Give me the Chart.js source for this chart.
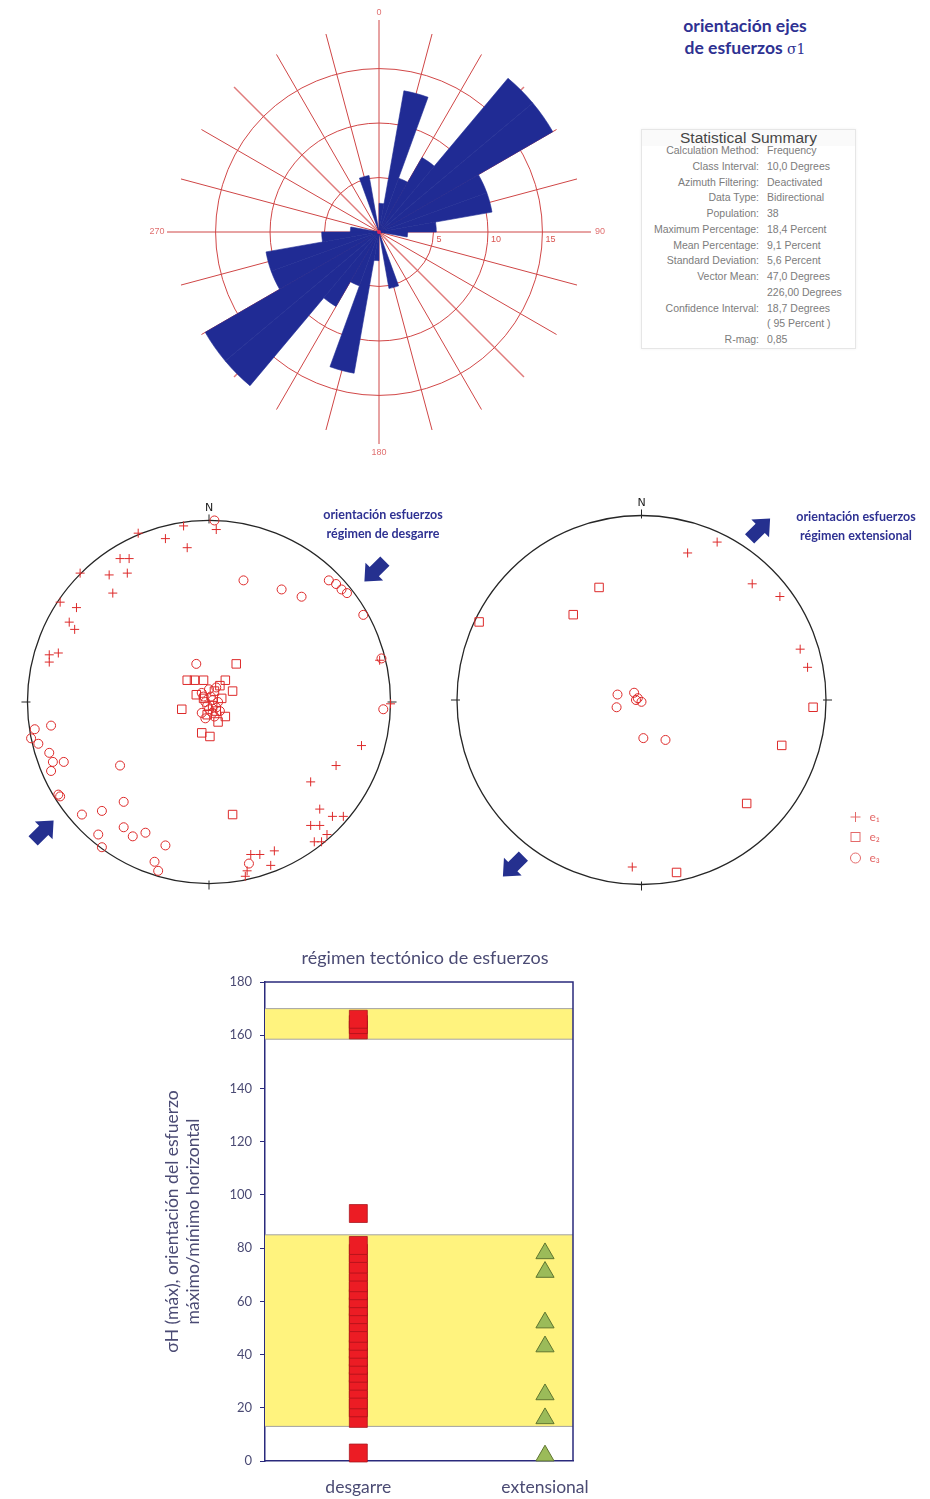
<!DOCTYPE html>
<html lang="es">
<head>
<meta charset="utf-8">
<title>Orientación de ejes de esfuerzos</title>
<script src="https://cdn.jsdelivr.net/npm/chart.js@4.4.1/dist/chart.umd.min.js"></script>
<style>
  html, body { margin: 0; padding: 0; background: #fff; }
  body { width: 930px; height: 1499px; position: relative; overflow: hidden; font-family: Lato, "Open Sans", sans-serif; }
  canvas { position: absolute; }
  .head { position: absolute; color: #2e3192; font-weight: bold; text-align: center; white-space: nowrap; }
  #summary { position: absolute; left: 641px; top: 129px; width: 213px; height: 218px; border: 1px solid #e6e6e6;
             box-shadow: 0 0 3px rgba(0,0,0,0.06); font-family: "Liberation Sans", Arial, sans-serif; z-index: 2; }
  #summary .ttl { position: absolute; left: 0; width: 100%; top: 0; height: 16px; line-height: 16px; text-align: center;
                  font-size: 15.5px; color: #454545; background: #fafafa; }
  #summary .row { position: absolute; left: 0; width: 100%; height: 12px; line-height: 12px; font-size: 10.5px; color: #7c7c7c; }
  #summary .row .k { position: absolute; right: 96px; text-align: right; white-space: nowrap; }
  #summary .row .v { position: absolute; left: 125px; white-space: nowrap; }
</style>
</head>
<body>

<div class="head" style="left:635px; top:15px; width:220px; font-size:17.5px; line-height:22px;">
  orientación ejes<br>de esfuerzos <span style="font-family:'DejaVu Serif'; font-weight:normal; font-size:14px;">σ1</span>
</div>

<div id="summary"><div class="ttl">Statistical Summary</div></div>

<div class="head" style="left:313px; top:505px; width:140px; font-size:12.5px; line-height:19px; z-index:3;">
  orientación esfuerzos<br>régimen de desgarre
</div>
<div class="head" style="left:781px; top:507px; width:150px; font-size:12.5px; line-height:19px; z-index:3;">
  orientación esfuerzos<br>régimen extensional
</div>

<canvas id="rose" width="480" height="480" style="left:139px; top:-8px;"></canvas>
<canvas id="stereoLeft" width="440" height="440" style="left:-11px; top:482px;"></canvas>
<canvas id="stereoRight" width="500" height="440" style="left:418px; top:480px;"></canvas>
<canvas id="regime" width="450" height="559" style="left:150px; top:940px;"></canvas>

<script>
// ---------- rose diagram: percentage per 10° class (bidirectional, 0° = N, clockwise) ----------
const roseClasses = Array.from({ length: 36 }, (_, i) => (i * 10) + '–' + (i * 10 + 10));
const rosePercent = [
  2.63, 13.16, 5.26, 7.89, 18.42, 18.42, 10.53, 10.53, 5.26,
  2.63, 0, 0, 0, 0, 0, 0, 5.26, 0,
  2.63, 13.16, 5.26, 7.89, 18.42, 18.42, 10.53, 10.53, 5.26,
  2.63, 0, 0, 0, 0, 0, 0, 5.26, 0
];
const roseRings = [5, 10, 15];
const roseCompass = ['0', '90', '180', '270'];

// ---------- statistical summary ----------
const statLabels = ['Calculation Method:', 'Class Interval:', 'Azimuth Filtering:', 'Data Type:', 'Population:',
  'Maximum Percentage:', 'Mean Percentage:', 'Standard Deviation:', 'Vector Mean:', '', 'Confidence Interval:', '', 'R-mag:'];
const statValues = ['Frequency', '10,0 Degrees', 'Deactivated', 'Bidirectional', '38',
  '18,4 Percent', '9,1 Percent', '5,6 Percent', '47,0 Degrees', '226,00 Degrees', '18,7 Degrees', '( 95 Percent )', '0,85'];

// ---------- stereonets: projected axis positions (unit circle, x = E, y = N) ----------
const desgarreE1 = [
  [-0.14, 0.97], [0.04, 0.95], [-0.39, 0.93], [-0.24, 0.90], [-0.12, 0.85], [-0.49, 0.79], [-0.44, 0.79],
  [-0.71, 0.71], [-0.55, 0.70], [-0.45, 0.71], [-0.53, 0.60], [-0.82, 0.55], [-0.73, 0.52], [-0.77, 0.44],
  [-0.74, 0.40], [-0.88, 0.26], [-0.83, 0.27], [-0.88, 0.22], [0.94, 0.23], [1.00, -0.01], [0.84, -0.24],
  [0.70, -0.35], [0.56, -0.44], [0.61, -0.59], [0.68, -0.63], [0.74, -0.63], [0.56, -0.68], [0.61, -0.68],
  [0.65, -0.73], [0.58, -0.77], [0.62, -0.77], [0.36, -0.82], [0.23, -0.84], [0.28, -0.84], [0.34, -0.90],
  [0.21, -0.93], [0.20, -0.96]
];
const desgarreE2 = [
  [0.15, 0.21], [-0.12, 0.12], [-0.08, 0.12], [0.09, 0.12], [0.13, 0.06], [-0.07, 0.04], [-0.15, -0.04],
  [0.09, -0.08], [0.05, -0.11], [-0.04, -0.17], [0.005, -0.19], [0.13, -0.62], [-0.03, 0.12], [0.06, 0.09],
  [0.03, 0.06], [-0.03, 0.02], [0.02, -0.02], [0.07, 0.02], [0.04, -0.05], [-0.01, -0.07]
];
const desgarreE3 = [
  [0.03, 1.00], [0.19, 0.67], [0.40, 0.62], [0.51, 0.58], [0.66, 0.67], [0.70, 0.65], [0.73, 0.62],
  [0.76, 0.60], [0.85, 0.48], [0.95, 0.24], [0.96, -0.04], [-0.07, 0.21], [-0.96, -0.15], [-0.87, -0.13],
  [-0.98, -0.20], [-0.94, -0.23], [-0.88, -0.28], [-0.86, -0.33], [-0.80, -0.33], [-0.87, -0.38],
  [-0.49, -0.35], [-0.83, -0.51], [-0.82, -0.52], [-0.47, -0.55], [-0.70, -0.62], [-0.59, -0.60],
  [-0.47, -0.69], [-0.61, -0.73], [-0.42, -0.74], [-0.35, -0.72], [-0.24, -0.79], [-0.59, -0.80],
  [-0.30, -0.88], [-0.28, -0.93], [0.22, -0.89],
  [-0.04, 0.05], [0.00, 0.07], [0.04, 0.08], [-0.02, 0.00], [0.02, 0.01], [0.00, -0.04], [0.04, -0.03],
  [-0.04, -0.06], [0.03, -0.08], [0.06, -0.05], [0.01, 0.03], [-0.01, -0.02], [0.02, -0.06], [-0.03, 0.03],
  [0.05, 0.00], [-0.02, -0.09]
];
const extensionalE1 = [[0.41, 0.87], [0.25, 0.81], [0.60, 0.64], [0.75, 0.57], [0.86, 0.28], [0.90, 0.18], [-0.05, -0.92]];
const extensionalE2 = [[-0.23, 0.62], [-0.37, 0.47], [-0.88, 0.43], [0.93, -0.04], [0.76, -0.25], [0.57, -0.57], [0.19, -0.95]];
const extensionalE3 = [[-0.13, 0.03], [-0.135, -0.04], [-0.04, 0.04], [-0.02, 0.01], [0.00, -0.01], [-0.03, 0.00], [0.01, -0.21], [0.13, -0.22]];
const axisNames = ['e₁', 'e₂', 'e₃'];

// ---------- tectonic regime: σH azimuth per regime ----------
const regimes = ['desgarre', 'extensional'];
const desgarreAzimuth = [3, 16, 20, 23, 27, 30, 33, 36, 39, 42, 45, 48, 52, 55, 58, 61, 64, 67, 71, 74, 78, 81, 93, 162, 164, 166];
const extensionalAzimuth = [2, 16, 25, 43, 52, 71, 78];
const regimeBands = [[13, 85], [158.5, 170]];
const azimuthTicks = { min: 0, max: 180, step: 20 };
const regimeTitle = 'régimen tectónico de esfuerzos';

Chart.defaults.font.family = 'Lato, "Open Sans", sans-serif';
Chart.defaults.devicePixelRatio = 1;

// summary box rows
(function () {
  const box = document.getElementById('summary');
  statLabels.forEach((k, i) => {
    const row = document.createElement('div');
    row.className = 'row';
    row.style.top = (14 + i * 15.75) + 'px';
    row.innerHTML = '<span class="k">' + k + '</span><span class="v">' + statValues[i] + '</span>';
    box.appendChild(row);
  });
})();

// ---------- rose ----------
const PETAL = '#202b94';
const SPOKE = '#cf4646';

const roseGrid = {
  id: 'roseGrid',
  // spokes every 15°, cardinal ones slightly longer; drawn under the petals
  beforeDatasetsDraw(chart) {
    const s = chart.scales.r, ctx = chart.ctx;
    const cx = s.xCenter, cy = s.yCenter, R = s.drawingArea;
    ctx.save();
    for (let a = 0; a < 360; a += 15) {
      const L = (a % 90 === 0) ? R + 5 : R - 2;
      const t = a * Math.PI / 180;
      const diag = a % 90 === 45;
      ctx.strokeStyle = diag ? 'rgba(214,80,80,0.75)' : SPOKE;
      ctx.lineWidth = diag ? 1.5 : 1;
      ctx.beginPath();
      ctx.moveTo(cx, cy);
      ctx.lineTo(cx + L * Math.sin(t), cy - L * Math.cos(t));
      ctx.stroke();
    }
    ctx.restore();
  },
  afterDraw(chart) {
    const s = chart.scales.r, ctx = chart.ctx;
    const cx = s.xCenter, cy = s.yCenter, R = s.drawingArea;
    ctx.save();
    ctx.fillStyle = '#d9534f';
    ctx.font = '9px "Liberation Sans", Arial, sans-serif';
    ctx.textBaseline = 'middle';
    ctx.textAlign = 'left';
    roseRings.forEach(v => ctx.fillText(String(v), cx + s.getDistanceFromCenterForValue(v) + 3, cy + 8));
    ctx.fillStyle = '#e07070';
    ctx.textAlign = 'center';
    const d = R + 12;
    ctx.fillText(roseCompass[0], cx, cy - d);
    ctx.fillText(roseCompass[1], cx + d + 2, cy);
    ctx.fillText(roseCompass[2], cx, cy + d + 2);
    ctx.fillText(roseCompass[3], cx - d - 3, cy);
    ctx.fillStyle = '#e0245a';
    ctx.beginPath(); ctx.arc(cx, cy, 2, 0, Math.PI * 2); ctx.fill();
    ctx.restore();
  }
};

new Chart(document.getElementById('rose'), {
  type: 'polarArea',
  data: {
    labels: roseClasses,
    datasets: [{
      data: rosePercent,
      backgroundColor: c => (c.raw > 0 ? PETAL : 'rgba(0,0,0,0)'),
      borderColor: c => (c.raw > 0 ? PETAL : 'rgba(0,0,0,0)'),
      borderWidth: c => (c.raw > 0 ? 0.6 : 0)
    }]
  },
  options: {
    responsive: false, animation: false, events: [],
    layout: { padding: 33 },
    plugins: { legend: { display: false }, tooltip: { enabled: false } },
    scales: {
      r: {
        min: 0, max: 19,
        ticks: { display: false, stepSize: 5 },
        grid: { circular: true, lineWidth: 1,
                color: c => (c.tick && c.tick.value % 5 === 0) ? 'rgba(204,51,51,0.9)' : 'rgba(0,0,0,0)' },
        angleLines: { display: false },
        pointLabels: { display: false }
      }
    }
  },
  plugins: [roseGrid]
});

// ---------- stereonets ----------
const RED = '#dd2a2a';
const NAVY = '#25308f';

function drawBlockArrow(ctx, x, y, deg) {
  ctx.save();
  ctx.translate(x, y);
  ctx.rotate(deg * Math.PI / 180);
  ctx.beginPath();
  ctx.moveTo(15, 0);
  ctx.lineTo(1, -12.5);
  ctx.lineTo(1, -6.5);
  ctx.lineTo(-14, -6.5);
  ctx.lineTo(-14, 6.5);
  ctx.lineTo(1, 6.5);
  ctx.lineTo(1, 12.5);
  ctx.closePath();
  ctx.fillStyle = NAVY;
  ctx.fill();
  ctx.restore();
}

const stereoFrame = {
  id: 'stereoFrame',
  beforeDatasetsDraw(chart) {
    const { ctx, scales: { x, y } } = chart;
    const cx = x.getPixelForValue(0), cy = y.getPixelForValue(0);
    const r = x.getPixelForValue(1) - cx;
    ctx.save();
    ctx.strokeStyle = '#262626';
    ctx.lineWidth = 1.3;
    ctx.beginPath(); ctx.arc(cx, cy, r, 0, Math.PI * 2); ctx.stroke();
    ctx.lineWidth = 1;
    [[0, -1], [1, 0], [0, 1], [-1, 0]].forEach(([dx, dy]) => {
      ctx.beginPath();
      ctx.moveTo(cx + dx * (r - 3), cy + dy * (r - 3));
      ctx.lineTo(cx + dx * (r + 6), cy + dy * (r + 6));
      ctx.stroke();
    });
    ctx.fillStyle = '#1a1a1a';
    ctx.font = '11px "DejaVu Sans", sans-serif';
    ctx.textAlign = 'center';
    ctx.textBaseline = 'middle';
    ctx.fillText('N', cx, cy - r - 12);
    ctx.restore();
  },
  afterDraw(chart, args, opts) {
    const { ctx, scales: { x, y } } = chart;
    const cx = x.getPixelForValue(0), cy = y.getPixelForValue(0);
    (opts.arrows || []).forEach(a => drawBlockArrow(ctx, cx + a[0], cy + a[1], a[2]));
    if (opts.legend) {
      const lx = cx + 214, ly = cy + 117;
      ctx.save();
      ctx.strokeStyle = '#e46a6a';
      ctx.fillStyle = '#e46a6a';
      ctx.lineWidth = 1;
      ctx.beginPath();
      ctx.moveTo(lx - 5, ly); ctx.lineTo(lx + 5, ly);
      ctx.moveTo(lx, ly - 5); ctx.lineTo(lx, ly + 5);
      ctx.stroke();
      ctx.strokeRect(lx - 4.5, ly + 20 - 4.5, 9, 9);
      ctx.beginPath(); ctx.arc(lx, ly + 41, 5, 0, Math.PI * 2); ctx.stroke();
      ctx.font = '12px Lato, sans-serif';
      ctx.textAlign = 'left';
      ctx.textBaseline = 'middle';
      axisNames.forEach((t, i) => ctx.fillText(t, lx + 14, ly + [0, 20, 41][i]));
      ctx.restore();
    }
  }
};

function toPts(arr) { return arr.map(p => ({ x: p[0], y: p[1] })); }

function stereonet(id, e1, e2, e3, frameOpts, padRight) {
  const lim = 220 / 187.5;
  return new Chart(document.getElementById(id), {
    type: 'scatter',
    data: {
      datasets: [
        { label: axisNames[0], data: toPts(e1), pointStyle: 'cross', pointRadius: 4.5, borderColor: RED, borderWidth: 1 },
        { label: axisNames[1], data: toPts(e2), pointStyle: 'rect', pointRadius: 6, borderColor: RED, backgroundColor: 'rgba(0,0,0,0)', borderWidth: 1 },
        { label: axisNames[2], data: toPts(e3), pointStyle: 'circle', pointRadius: 4.5, borderColor: RED, backgroundColor: 'rgba(0,0,0,0)', borderWidth: 1 }
      ]
    },
    options: {
      responsive: false, animation: false, events: [],
      layout: { padding: { left: 0, top: 0, bottom: 0, right: padRight } },
      plugins: { legend: { display: false }, tooltip: { enabled: false }, stereoFrame: frameOpts },
      scales: {
        x: { type: 'linear', min: -lim, max: lim, display: false },
        y: { type: 'linear', min: -lim, max: lim, display: false }
      }
    },
    plugins: [stereoFrame]
  });
}

stereonet('stereoLeft', desgarreE1, desgarreE2, desgarreE3,
  { arrows: [[166, -131, 135], [-166, 129, -45]], legend: false }, 0);
stereonet('stereoRight', extensionalE1, extensionalE2, extensionalE3,
  { arrows: [[118, -171, -45], [-128, 166, 135]], legend: true }, 60);

// ---------- tectonic regime chart ----------
const AXIS_NAVY = '#2a2a7c';
const TXT = '#4b4b74';

const regimeFrame = {
  id: 'regimeFrame',
  beforeDatasetsDraw(chart) {
    const { ctx, chartArea: a, scales: { y } } = chart;
    ctx.save();
    regimeBands.forEach(([lo, hi]) => {
      const y1 = y.getPixelForValue(hi), y0 = y.getPixelForValue(lo);
      ctx.fillStyle = '#fff37e';
      ctx.fillRect(a.left, y1, a.right - a.left, y0 - y1);
      ctx.strokeStyle = '#a3a3a3';
      ctx.lineWidth = 1;
      ctx.beginPath();
      ctx.moveTo(a.left, y1); ctx.lineTo(a.right, y1);
      ctx.moveTo(a.left, y0); ctx.lineTo(a.right, y0);
      ctx.stroke();
    });
    ctx.restore();
  },
  afterDraw(chart) {
    const { ctx, chartArea: a } = chart;
    ctx.save();
    ctx.strokeStyle = AXIS_NAVY;
    ctx.lineWidth = 1.5;
    ctx.beginPath();
    ctx.moveTo(a.left, a.top); ctx.lineTo(a.right, a.top); ctx.lineTo(a.right, a.bottom);
    ctx.stroke();
    // chart title, centred over the plot area
    ctx.fillStyle = TXT;
    ctx.font = '18px Lato, sans-serif';
    ctx.textAlign = 'center';
    ctx.textBaseline = 'middle';
    ctx.fillText(regimeTitle, (a.left + a.right) / 2 + 6, 18);
    ctx.restore();
  }
};

new Chart(document.getElementById('regime'), {
  type: 'scatter',
  data: {
    datasets: [
      { label: regimes[0], data: desgarreAzimuth.map(v => ({ x: 1, y: v })), pointStyle: 'rect', pointRadius: 12.7,
        backgroundColor: '#ec1c24', borderColor: 'rgba(165,18,25,0.75)', borderWidth: 1, clip: false },
      { label: regimes[1], data: extensionalAzimuth.map(v => ({ x: 2, y: v })), pointStyle: 'triangle', pointRadius: 10.5,
        backgroundColor: '#9bbb59', borderColor: '#5f7530', borderWidth: 1, clip: false }
    ]
  },
  options: {
    responsive: false, animation: false, events: [],
    layout: { padding: { left: 0, right: 27, top: 42, bottom: 0 } },
    plugins: { legend: { display: false }, tooltip: { enabled: false }, title: { display: false } },
    scales: {
      x: {
        type: 'linear', min: 0.5, max: 2.15,
        afterBuildTicks: s => { s.ticks = [{ value: 1 }, { value: 2 }]; },
        ticks: { callback: v => regimes[v - 1], color: TXT, font: { size: 17.5 }, padding: 16, maxRotation: 0 },
        grid: { display: false, drawTicks: false },
        border: { color: AXIS_NAVY, width: 1.5 },
        afterFit: s => { s.height = 38; s.paddingLeft = 0; s.paddingRight = 0; }
      },
      y: {
        min: azimuthTicks.min, max: azimuthTicks.max,
        ticks: { stepSize: azimuthTicks.step, color: TXT, font: { size: 13 }, padding: 8 },
        grid: { drawOnChartArea: false, tickLength: 5, color: AXIS_NAVY },
        border: { color: AXIS_NAVY, width: 1.5 },
        title: { display: true, text: ['σH (máx), orientación del esfuerzo', 'máximo/mínimo horizontal'],
                 color: TXT, font: { size: 17.5, lineHeight: 1.2 }, padding: { top: 11.5, bottom: 0 } },
        afterFit: s => { s.width = 115; }
      }
    }
  },
  plugins: [regimeFrame]
});
</script>
</body>
</html>
